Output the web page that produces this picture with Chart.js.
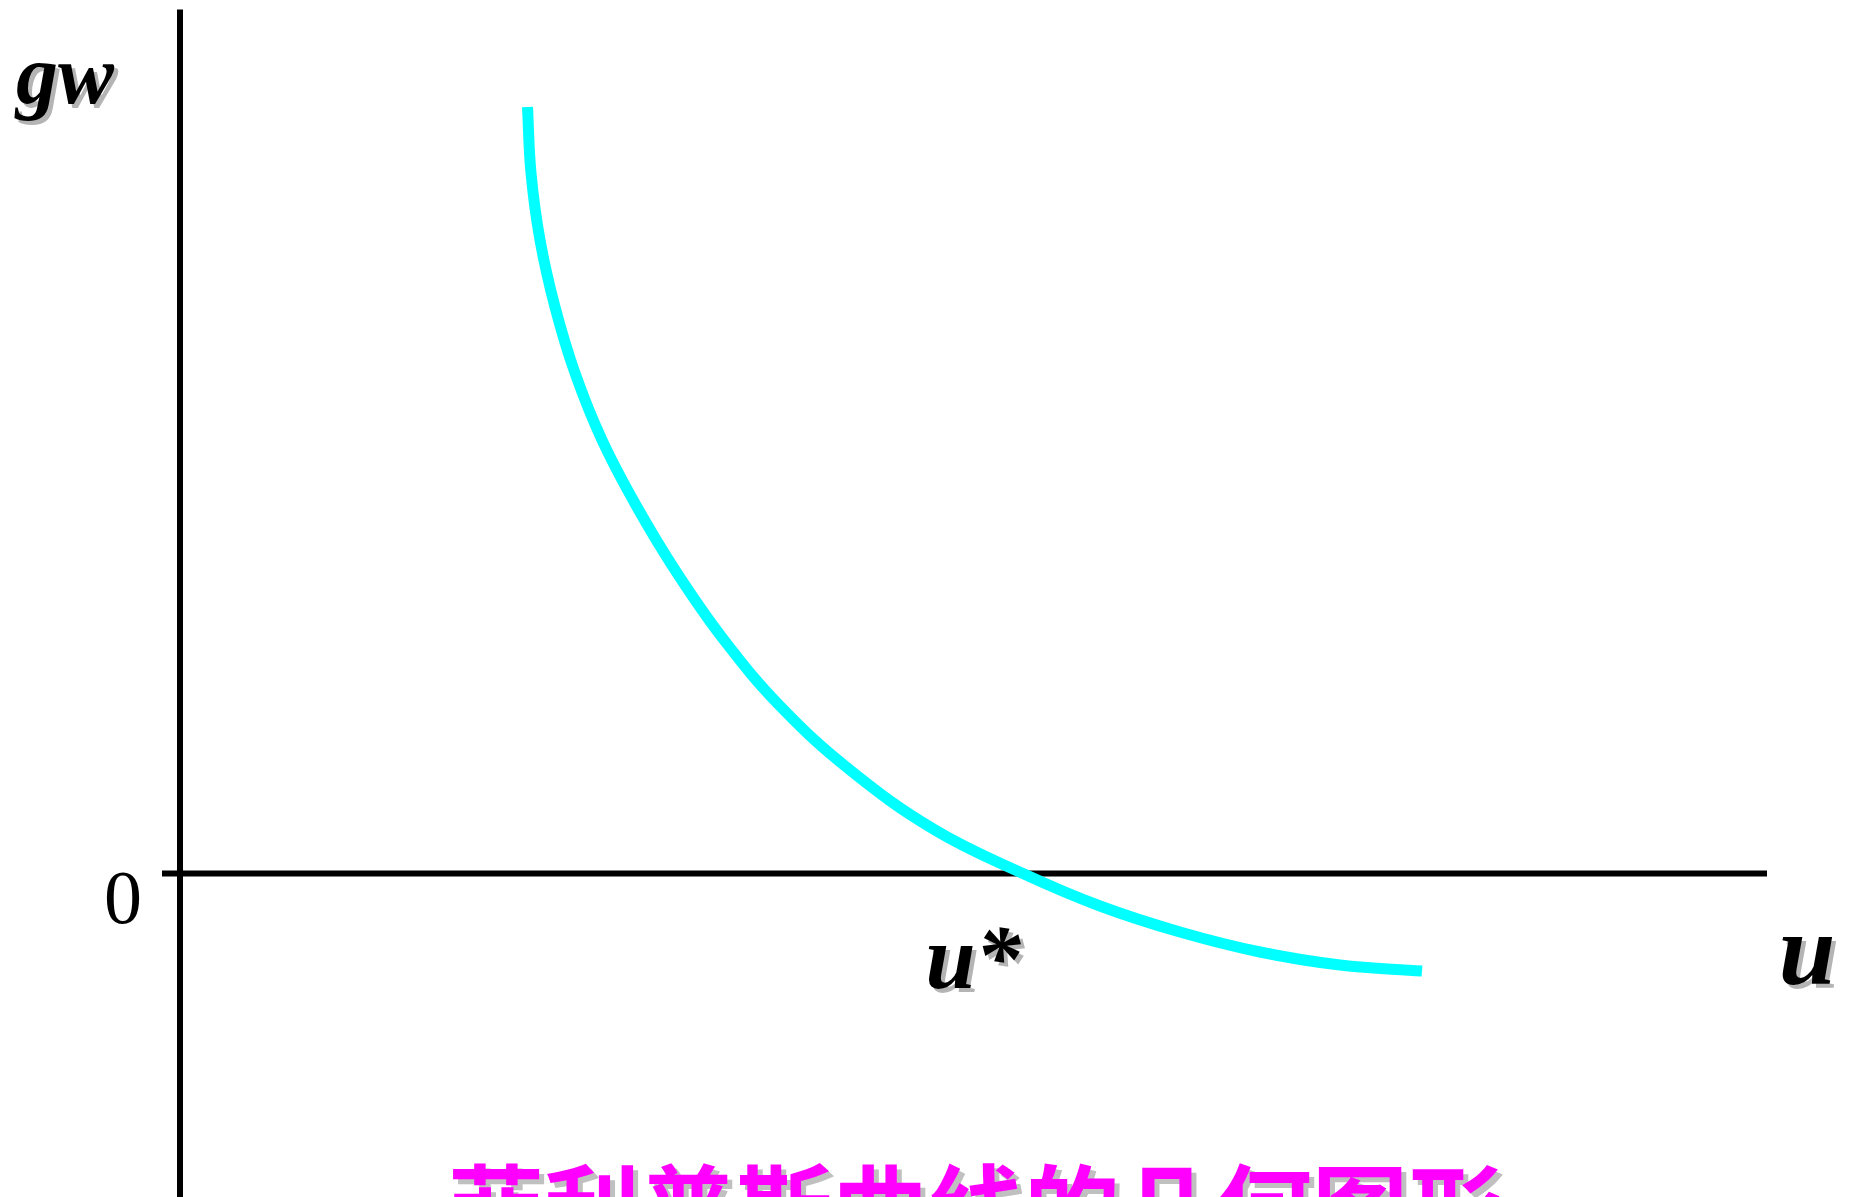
<!DOCTYPE html>
<html>
<head>
<meta charset="utf-8">
<title>菲利普斯曲线的几何图形</title>
<script src="https://cdn.jsdelivr.net/npm/chart.js@4.4.1/dist/chart.umd.min.js"></script>
<style>
    html, body { margin: 0; padding: 0; background: #fff; overflow: hidden; }
    canvas { display: block; }
</style>
</head>
<body>
<canvas id="phillipsChart" width="1849" height="1197"></canvas>
<script>
// Phillips curve (u = unemployment, gw = wage growth)
const uValues  = [3.475, 3.51, 3.60, 3.75, 3.95, 4.22, 4.57, 4.97, 5.44, 6.01, 6.70, 7.55, 8.43, 9.20, 10.00, 10.80, 11.60, 12.42];
const gwValues = [7.665, 7.005, 6.335, 5.665, 5.005, 4.335, 3.665, 3.005, 2.335, 1.665, 1.035, 0.435, 0, -0.325, -0.585, -0.785, -0.915, -0.975];

// axis extents
const uAxisRange  = [-0.18, 15.87];
const gwAxisRange = [-3.3, 8.64];

// text labels
const originLabel = '0';
const uStarLabel  = 'u*';
const uStarValue  = 8.43;
const xAxisLabel  = 'u';
const yAxisLabel  = 'gw';
const titleText   = '菲利普斯曲线的几何图形';

const serif = '"Liberation Serif", "Times New Roman", Times, serif';
const cjk = '"Noto Sans CJK SC", sans-serif';

function shadowText(ctx, text, x, y, color, shadow, off) {
    ctx.fillStyle = shadow;
    ctx.fillText(text, x + off, y + off);
    ctx.fillStyle = color;
    ctx.fillText(text, x, y);
}

const labelsPlugin = {
    id: 'labels',
    afterDraw(chart) {
        const ctx = chart.ctx;
        const xs = chart.scales.x, ys = chart.scales.y;
        const ox = xs.getPixelForValue(0), oy = ys.getPixelForValue(0);
        ctx.save();
        ctx.textBaseline = 'alphabetic';

        ctx.textAlign = 'left';
        ctx.font = 'italic bold 84px ' + serif;
        shadowText(ctx, yAxisLabel, 16, ys.getPixelForValue(gwAxisRange[1]) + 93, '#000', '#b4b4b4', 4);

        ctx.textAlign = 'center';
        ctx.font = '76px ' + serif;
        ctx.fillStyle = '#000';
        ctx.fillText(originLabel, ox - 57, oy + 49);

        ctx.font = 'italic bold 90px ' + serif;
        shadowText(ctx, uStarLabel, xs.getPixelForValue(uStarValue) - 50, oy + 114, '#000', '#b4b4b4', 4);

        ctx.font = 'italic bold 102px ' + serif;
        shadowText(ctx, xAxisLabel, xs.getPixelForValue(uAxisRange[1]) + 40, oy + 110, '#000', '#b4b4b4', 4);

        ctx.font = 'bold 96px ' + cjk;
        shadowText(ctx, titleText, 976, 1245, '#ff00ff', '#c0c0c0', 5);
        ctx.restore();
    }
};

function drawChart() {
    const curve = uValues.map((u, i) => ({ x: u, y: gwValues[i] }));

    new Chart(document.getElementById('phillipsChart').getContext('2d'), {
        type: 'scatter',
        data: {
            datasets: [
                {
                    label: 'Phillips curve',
                    data: curve,
                    showLine: true,
                    borderColor: '#00ffff',
                    borderWidth: 11,
                    borderCapStyle: 'butt',
                    tension: 0.4,
                    pointRadius: 0,
                    order: 0
                },
                {
                    label: 'u axis',
                    data: [{ x: uAxisRange[0], y: 0 }, { x: uAxisRange[1], y: 0 }],
                    showLine: true,
                    borderColor: '#000',
                    borderWidth: 6,
                    pointRadius: 0,
                    order: 1
                },
                {
                    label: 'gw axis',
                    data: [{ x: 0, y: gwAxisRange[0] }, { x: 0, y: gwAxisRange[1] }],
                    showLine: true,
                    borderColor: '#000',
                    borderWidth: 6,
                    pointRadius: 0,
                    order: 1
                }
            ]
        },
        options: {
            responsive: false,
            animation: false,
            devicePixelRatio: 1,
            layout: { padding: 0 },
            scales: {
                x: { type: 'linear', min: -1.80, max: 16.69, display: false },
                y: { type: 'linear', min: -3.235, max: 8.735, display: false }
            },
            plugins: {
                legend: { display: false },
                tooltip: { enabled: false }
            }
        },
        plugins: [labelsPlugin]
    });
}

Promise.all([
    document.fonts.load('italic bold 90px "Liberation Serif"'),
    document.fonts.load('76px "Liberation Serif"'),
    document.fonts.load('bold 96px "Noto Sans CJK SC"', titleText)
]).catch(function () {}).then(drawChart);
</script>
</body>
</html>
